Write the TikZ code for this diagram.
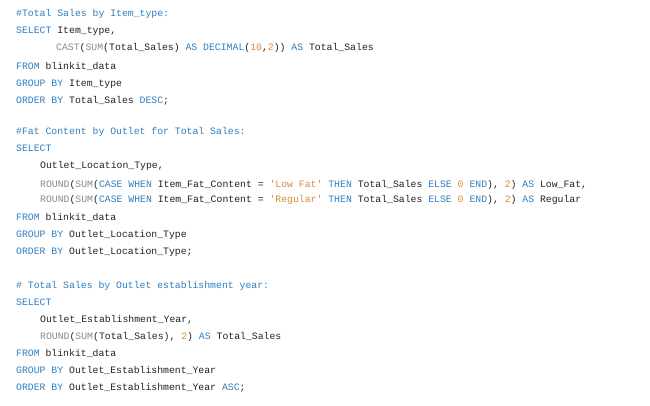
\documentclass[tikz,border=0pt]{standalone}
\usepackage{xcolor}
\usepackage{fontspec}
\setmonofont{Liberation Mono}
\usepackage{tikz}
\usetikzlibrary{positioning}

\definecolor{kwblue}{HTML}{2F7FC1}
\definecolor{fngray}{HTML}{8A8A8A}
\definecolor{numorange}{HTML}{D98A3A}
\definecolor{codetext}{HTML}{222222}

\newcommand{\kw}[1]{\textcolor{kwblue}{#1}}
\newcommand{\fn}[1]{\textcolor{fngray}{#1}}
\newcommand{\nm}[1]{\textcolor{numorange}{#1}}

\begin{document}
\begin{tikzpicture}[x=1pt, y=-1pt,
		codeline/.style={anchor=base west, inner sep=0pt, text=codetext,
			font=\fontsize{9.8}{11}\ttfamily}]
				\useasboundingbox (0,0) rectangle (650,406);
				\fill[white] (0,0) rectangle (650,406);
				
				% first query
				\node [codeline] (c1) at (16,17) {\kw{\#Total Sales by Item\_type:}};
				\node [codeline] (s1) at (16,34) {\kw{SELECT} Item\_type,};
				\node [codeline] (s1a) at (56,51) {\fn{CAST}(\fn{SUM}(Total\_Sales) \kw{AS DECIMAL}(\nm{10},\nm{2})) \kw{AS} Total\_Sales};
				\node [codeline] (f1) at (16,70) {\kw{FROM} blinkit\_data};
				\node [codeline] (g1) at (16,87) {\kw{GROUP BY} Item\_type};
				\node [codeline] (o1) at (16,104) {\kw{ORDER BY} Total\_Sales \kw{DESC};};
				
				% second query
				\node [codeline] (c2) at (16,135) {\kw{\#Fat Content by Outlet for Total Sales:}};
				\node [codeline] (s2) at (16,152) {\kw{SELECT}};
				\node [codeline] (s2a) at (40,169) {Outlet\_Location\_Type,};
				\node [codeline] (s2b) at (40,187) {\fn{ROUND}(\fn{SUM}(\kw{CASE WHEN} Item\_Fat\_Content = \nm{'Low Fat'} \kw{THEN} Total\_Sales \kw{ELSE} \nm{0} \kw{END}), \nm{2}) \kw{AS} Low\_Fat,};
				\node [codeline] (s2c) at (40,203) {\fn{ROUND}(\fn{SUM}(\kw{CASE WHEN} Item\_Fat\_Content = \nm{'Regular'} \kw{THEN} Total\_Sales \kw{ELSE} \nm{0} \kw{END}), \nm{2}) \kw{AS} Regular};
				\node [codeline] (f2) at (16,220) {\kw{FROM} blinkit\_data};
				\node [codeline] (g2) at (16,237) {\kw{GROUP BY} Outlet\_Location\_Type};
				\node [codeline] (o2) at (16,254) {\kw{ORDER BY} Outlet\_Location\_Type;};
				
				% third query
				\node [codeline] (c3) at (16,288) {\kw{\# Total Sales by Outlet establishment year:}};
				\node [codeline] (s3) at (16,305) {\kw{SELECT}};
				\node [codeline] (s3a) at (40,322) {Outlet\_Establishment\_Year,};
				\node [codeline] (s3b) at (40,339) {\fn{ROUND}(\fn{SUM}(Total\_Sales), \nm{2}) \kw{AS} Total\_Sales};
				\node [codeline] (f3) at (16,356) {\kw{FROM} blinkit\_data};
				\node [codeline] (g3) at (16,373) {\kw{GROUP BY} Outlet\_Establishment\_Year};
				\node [codeline] (o3) at (16,390) {\kw{ORDER BY} Outlet\_Establishment\_Year \kw{ASC};};
				\end{tikzpicture}
\end{document}
